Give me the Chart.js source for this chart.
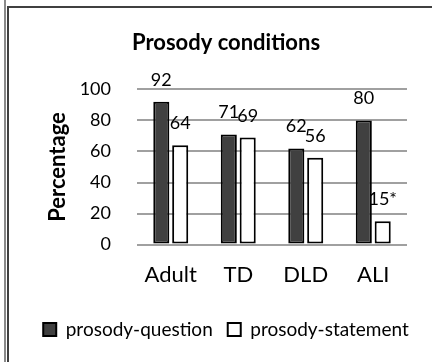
<!DOCTYPE html>
<html>
<head>
<meta charset="utf-8">
<script src="https://cdn.jsdelivr.net/npm/chart.js@4/dist/chart.umd.min.js"></script>
<style>
    html, body { margin: 0; padding: 0; background: #fff; }
    #wrap { position: relative; width: 432px; height: 362px; overflow: hidden; }
    #chart { position: absolute; left: 0; top: 0; }
    .rule { position: absolute; }
</style>
</head>
<body>
<div id="wrap">
    <canvas id="chart" width="432" height="362"></canvas>
    <div class="rule" style="left:4px;top:0;width:2px;height:362px;background:#8a8a8a"></div>
    <div class="rule" style="left:7px;top:6px;width:2px;height:356px;background:#404040"></div>
    <div class="rule" style="left:7px;top:6px;width:425px;height:2px;background:#404040"></div>
</div>
<script>
// chart data
const groups = ['Adult', 'TD', 'DLD', 'ALI'];
const questionVals = [92, 71, 62, 80];
const statementVals = [64, 69, 56, 15];
const statementMarks = ['', '', '', '*'];
const yTicks = [0, 20, 40, 60, 80, 100];

const FONT = 'Lato, "Open Sans", sans-serif';

// value labels drawn above each bar, like excel "outside end"
const barLabels = {
    id: 'barLabels',
    afterDatasetsDraw(chart) {
        const ctx = chart.ctx;
        ctx.save();
        ctx.font = '18px ' + FONT;
        ctx.fillStyle = '#000';
        ctx.textAlign = 'center';
        ctx.textBaseline = 'alphabetic';
        chart.data.datasets.forEach((ds, di) => {
            const meta = chart.getDatasetMeta(di);
            meta.data.forEach((bar, i) => {
                const mark = (ds.marks && ds.marks[i]) || '';
                ctx.fillText(String(ds.data[i]) + mark, bar.x, bar.y - 16);
            });
        });
        ctx.restore();
    },
};

new Chart(document.getElementById('chart'), {
    type: 'bar',
    data: {
        labels: groups,
        datasets: [
            { label: 'prosody-question', data: questionVals, backgroundColor: '#404040', borderColor: '#000', borderWidth: 2, borderSkipped: false },
            { label: 'prosody-statement', data: statementVals, marks: statementMarks, backgroundColor: '#fff', borderColor: '#000', borderWidth: 2, borderSkipped: false },
        ],
    },
    options: {
        responsive: false,
        animation: false,
        devicePixelRatio: 1,
        datasets: { bar: { categoryPercentage: 0.56, barPercentage: 0.85 } },
        layout: { padding: { left: 20, right: 0, top: 0, bottom: 13 } },
        plugins: {
            tooltip: { enabled: false },
            title: {
                display: true,
                text: 'Prosody conditions',
                color: '#000',
                font: { family: FONT, size: 22, weight: 'bold' },
                padding: { top: 30, bottom: 33 },
            },
            legend: {
                position: 'bottom',
                labels: {
                    color: '#000',
                    font: { family: FONT, size: 19 },
                    boxWidth: 13,
                    boxHeight: 13,
                    padding: 15,
                },
            },
        },
        scales: {
            x: {
                grid: { display: false, drawTicks: false },
                border: { display: false },
                ticks: { color: '#000', font: { family: FONT, size: 22 }, padding: 17, maxRotation: 0 },
            },
            y: {
                min: 0,
                max: 100,
                afterBuildTicks: (axis) => { axis.ticks = yTicks.map((v) => ({ value: v })); },
                afterFit: (axis) => { axis.width = 117; },
                grid: { color: '#a0a0a0', lineWidth: 2, drawTicks: false },
                border: { display: false },
                ticks: { color: '#000', font: { family: FONT, size: 18 }, padding: 26, autoSkip: false },
                title: {
                    display: true,
                    text: 'Percentage',
                    color: '#000',
                    font: { family: FONT, size: 22, weight: 'bold' },
                    padding: { top: 25, bottom: 4 },
                },
            },
            // empty right axis, only keeps the plot clear of the right edge
            yRight: {
                position: 'right',
                grid: { display: false, drawTicks: false },
                border: { display: false },
                ticks: { display: false },
                afterFit: (axis) => { axis.width = 25; },
            },
        },
    },
    plugins: [barLabels],
});
</script>
</body>
</html>
